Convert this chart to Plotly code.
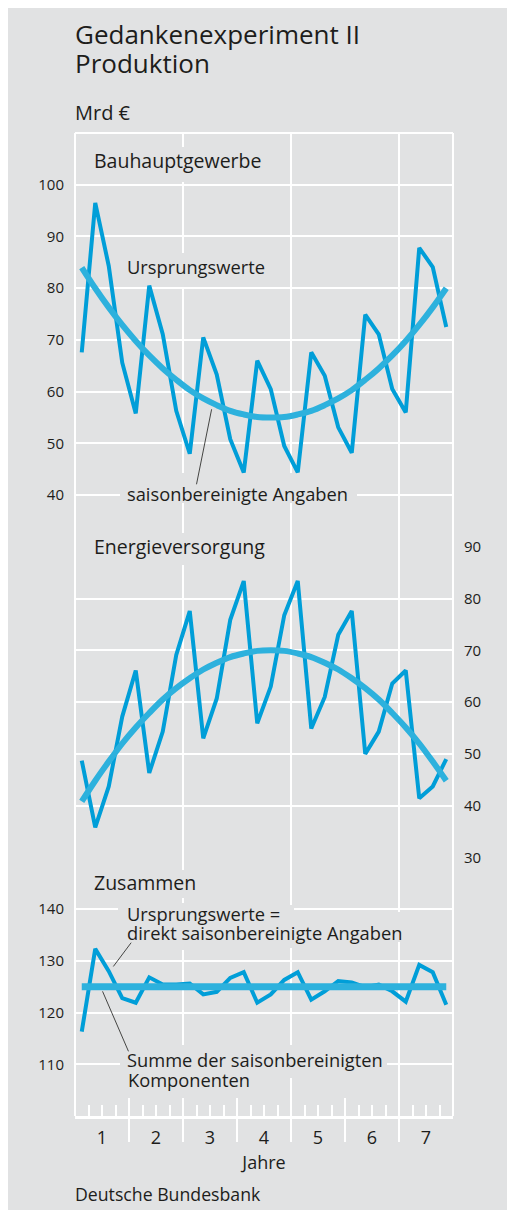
import plotly.graph_objects as go

# ---------------- data ----------------
jahre = ["1", "2", "3", "4", "5", "6", "7"]
jahr_mitte = [0.5, 1.5, 2.5, 3.5, 4.5, 5.5, 6.5]
# quarterly time axis: 7 years x 4 quarters, plotted at mid-quarter
zeit = [j + (q - 0.5) / 4 for j in range(7) for q in range(1, 5)]

bau_ursprung = [67.6, 96.5, 84.3, 65.6, 55.8, 80.5, 71.1, 56.3, 48.0, 70.5,
                63.3, 50.8, 44.4, 66.0, 60.5, 49.5, 44.4, 67.6, 63.1, 53.1,
                48.2, 74.9, 71.1, 60.5, 56.0, 87.8, 84.1, 72.5]
bau_saison = [84.0, 80.0, 76.3, 72.9, 69.8, 67.0, 64.5, 62.3, 60.3, 58.7,
              57.4, 56.3, 55.6, 55.1, 55.0, 55.1, 55.6, 56.3, 57.4, 58.7,
              60.3, 62.3, 64.5, 67.0, 69.8, 72.9, 76.3, 80.0]
energie_ursprung = [48.7, 35.8, 43.7, 57.2, 66.1, 46.3, 54.3, 69.1, 77.6, 53.0,
                    60.7, 75.9, 83.4, 55.9, 63.0, 76.8, 83.4, 54.9, 61.0, 73.0,
                    77.6, 50.0, 54.3, 63.6, 66.1, 41.4, 43.7, 49.0]
energie_saison = [40.8, 44.8, 48.5, 52.0, 55.1, 57.9, 60.5, 62.7, 64.6, 66.3,
                  67.6, 68.7, 69.4, 69.9, 70.0, 69.9, 69.4, 68.7, 67.6, 66.3,
                  64.6, 62.7, 60.5, 57.9, 55.1, 52.0, 48.5, 44.8]
zusammen_ursprung = [116.3, 132.3, 128.0, 122.8, 121.9, 126.8, 125.4, 125.4, 125.6, 123.5,
                     124.0, 126.7, 127.8, 121.9, 123.5, 126.3, 127.8, 122.5, 124.1, 126.1,
                     125.8, 124.9, 125.4, 124.1, 122.1, 129.2, 127.8, 121.5]
zusammen_summe = [125.0, 125.0, 125.0, 125.0, 125.0, 125.0, 125.0, 125.0, 125.0, 125.0,
                  125.0, 125.0, 125.0, 125.0, 125.0, 125.0, 125.0, 125.0, 125.0, 125.0,
                  125.0, 125.0, 125.0, 125.0, 125.0, 125.0, 125.0, 125.0]

bau_ticks = [40, 50, 60, 70, 80, 90, 100]
energie_ticks = [30, 40, 50, 60, 70, 80, 90]
zusammen_ticks = [110, 120, 130, 140]

# ---------------- geometry / styling ----------------
OFF = 8                      # page offset of the figure (body margin)
W, H = 507, 1202
L, R, T, B = 67, 62, 125, 94
PW, PH = W - L - R, H - T - B


def X(px):
    """page x pixel -> paper coordinate"""
    return (px - OFF - L) / PW


def Y(py):
    """page y pixel -> paper coordinate"""
    return (H - B - (py - OFF)) / PH


BG = "#e1e2e3"
RAW = "#009ed8"
SM = "#2db1dd"
TXT = "#1d1d1b"
FONT = "Open Sans"

fig = go.Figure()
fig.add_trace(go.Scatter(x=zeit, y=bau_ursprung, xaxis="x", yaxis="y", mode="lines",
                         line=dict(color=RAW, width=4), hoverinfo="skip"))
fig.add_trace(go.Scatter(x=zeit, y=bau_saison, xaxis="x", yaxis="y", mode="lines",
                         line=dict(color=SM, width=6, shape="spline"), hoverinfo="skip"))
fig.add_trace(go.Scatter(x=zeit, y=energie_ursprung, xaxis="x2", yaxis="y2", mode="lines",
                         line=dict(color=RAW, width=4), hoverinfo="skip"))
fig.add_trace(go.Scatter(x=zeit, y=energie_saison, xaxis="x2", yaxis="y2", mode="lines",
                         line=dict(color=SM, width=6, shape="spline"), hoverinfo="skip"))
fig.add_trace(go.Scatter(x=zeit, y=zusammen_ursprung, xaxis="x3", yaxis="y3", mode="lines",
                         line=dict(color=RAW, width=4), hoverinfo="skip"))
fig.add_trace(go.Scatter(x=zeit, y=zusammen_summe, xaxis="x3", yaxis="y3", mode="lines",
                         line=dict(color=SM, width=7), hoverinfo="skip"))

tickfont = dict(family=FONT, size=15, color=TXT)
xcommon = dict(range=[0, 7], showgrid=False, zeroline=False, showticklabels=False,
               ticks="", fixedrange=True, showline=False)
ycommon = dict(showgrid=True, gridcolor="white", gridwidth=2, zeroline=False, ticks="",
               tickfont=tickfont, fixedrange=True, showline=False, tickmode="array",
               ticklabelstandoff=10)

fig.update_layout(
    width=W, height=H,
    margin=dict(l=L, r=R, t=T, b=B, pad=0),
    paper_bgcolor=BG, plot_bgcolor=BG,
    showlegend=False,
    font=dict(family=FONT, color=TXT),
    xaxis=dict(anchor="y", **xcommon),
    xaxis2=dict(anchor="y2", **xcommon),
    xaxis3=dict(anchor="y3", range=[0, 7], zeroline=False, showgrid=False, fixedrange=True,
                tickmode="array", tickvals=jahr_mitte, ticktext=jahre,
                ticks="inside", ticklen=11, tickwidth=2, tickcolor="white",
                minor=dict(tickmode="linear", tick0=0, dtick=0.25, ticks="inside",
                           ticklen=11, tickwidth=2, tickcolor="white", showgrid=False),
                showline=True, linecolor="white", linewidth=3,
                tickfont=dict(family=FONT, size=18, color=TXT), ticklabelstandoff=3,
                title=dict(text="Jahre", font=dict(family=FONT, size=18, color=TXT), standoff=9)),
    yaxis=dict(anchor="x", domain=[11 / 19, 1], range=[30, 110], tickvals=bau_ticks, side="left", **ycommon),
    yaxis2=dict(anchor="x2", domain=[5 / 19, 11 / 19], range=[30, 90], tickvals=energie_ticks, side="right", **ycommon),
    yaxis3=dict(anchor="x3", domain=[0, 5 / 19], range=[100, 150], tickvals=zusammen_ticks, side="left", **ycommon),
)

shapes = []
# white margin strips at left / top of the page
shapes.append(dict(type="rect", xref="paper", yref="paper", x0=X(-10), x1=X(7), y0=Y(1300), y1=Y(-10),
                   fillcolor="white", line=dict(width=0), layer="below"))
shapes.append(dict(type="rect", xref="paper", yref="paper", x0=X(-10), x1=X(600), y0=Y(7), y1=Y(-10),
                   fillcolor="white", line=dict(width=0), layer="below"))
# vertical grid lines every two years (extending below the axis)
for gx in [2, 4, 6]:
    shapes.append(dict(type="line", xref="x3", yref="paper", x0=gx, x1=gx, y0=Y(1142), y1=1,
                       line=dict(color="white", width=2), layer="below"))
# year separators around the axis
for gx in [1, 3, 5]:
    shapes.append(dict(type="line", xref="x3", yref="paper", x0=gx, x1=gx, y0=Y(1142), y1=Y(1098),
                       line=dict(color="white", width=2), layer="below"))
# frame
for (x0, x1, y0, y1) in [(0, 0, 0, 1), (1, 1, 0, 1), (0, 1, 1, 1)]:
    shapes.append(dict(type="line", xref="paper", yref="paper", x0=x0, x1=x1, y0=y0, y1=y1,
                       line=dict(color="white", width=2), layer="below"))

# grid-line gaps behind the labels (page pixels: x0, x1, y0, y1)
gaps = [
    (180, 186, 147, 182), (180, 186, 253, 287), (180, 186, 473, 503), (288, 294, 473, 503),
    (120, 357, 491.3, 497.3),
    (180, 186, 533, 565), (87, 277, 543.7, 549.7),
    (180, 186, 870, 898), (180, 186, 903, 950), (288, 294, 905, 948), (396, 402, 912, 942),
    (118, 290, 906.3, 912.3), (120, 387, 1061, 1067),
    (180, 186, 1045, 1098), (288, 294, 1045, 1078),
]
for (x0, x1, y0, y1) in gaps:
    shapes.append(dict(type="rect", xref="paper", yref="paper", x0=X(x0), x1=X(x1), y0=Y(y1), y1=Y(y0),
                       fillcolor=BG, line=dict(width=0), layer="above"))

# leader lines
shapes.append(dict(type="line", xref="x", yref="y", x0=2.25, y0=42.1, x1=2.53, y1=56.6,
                   line=dict(color=TXT, width=0.8)))
shapes.append(dict(type="line", xref="x3", yref="y3", x0=0.71, y0=128.9, x1=1.04, y1=133.5,
                   line=dict(color=TXT, width=0.8)))
shapes.append(dict(type="line", xref="x3", yref="y3", x0=0.51, y0=124.1, x1=0.99, y1=112.5,
                   line=dict(color=TXT, width=0.8)))
fig.update_layout(shapes=shapes)


def label(text, left_px, mid_px, size):
    return dict(text=text, xref="paper", yref="paper", x=X(left_px - 3), y=Y(mid_px),
                xanchor="left", yanchor="middle", showarrow=False, align="left",
                font=dict(family=FONT, size=size, color=TXT))


annotations = [
    label("Gedankenexperiment II", 76, 33.6, 26),
    label("Produktion", 76, 62.6, 26),
    label("Mrd €", 76, 112.7, 20),
    label("Bauhauptgewerbe", 95, 160.4, 19.5),
    label("Ursprungswerte", 128, 266.3, 18.3),
    label("saisonbereinigte Angaben", 128, 493.3, 18.3),
    label("Energieversorgung", 95, 546.5, 19.5),
    label("Zusammen", 94.5, 882.7, 19.5),
    label("Ursprungswerte =", 128, 913.5, 18.3),
    label("direkt saisonbereinigte Angaben", 128, 932.8, 18.3),
    label("Summe der saisonbereinigten", 128, 1059.5, 18.3),
    label("Komponenten", 128.5, 1079.1, 18.3),
    label("Deutsche Bundesbank", 76, 1194, 17.7),
]
fig.update_layout(annotations=annotations)

fig.write_html("out.html")
